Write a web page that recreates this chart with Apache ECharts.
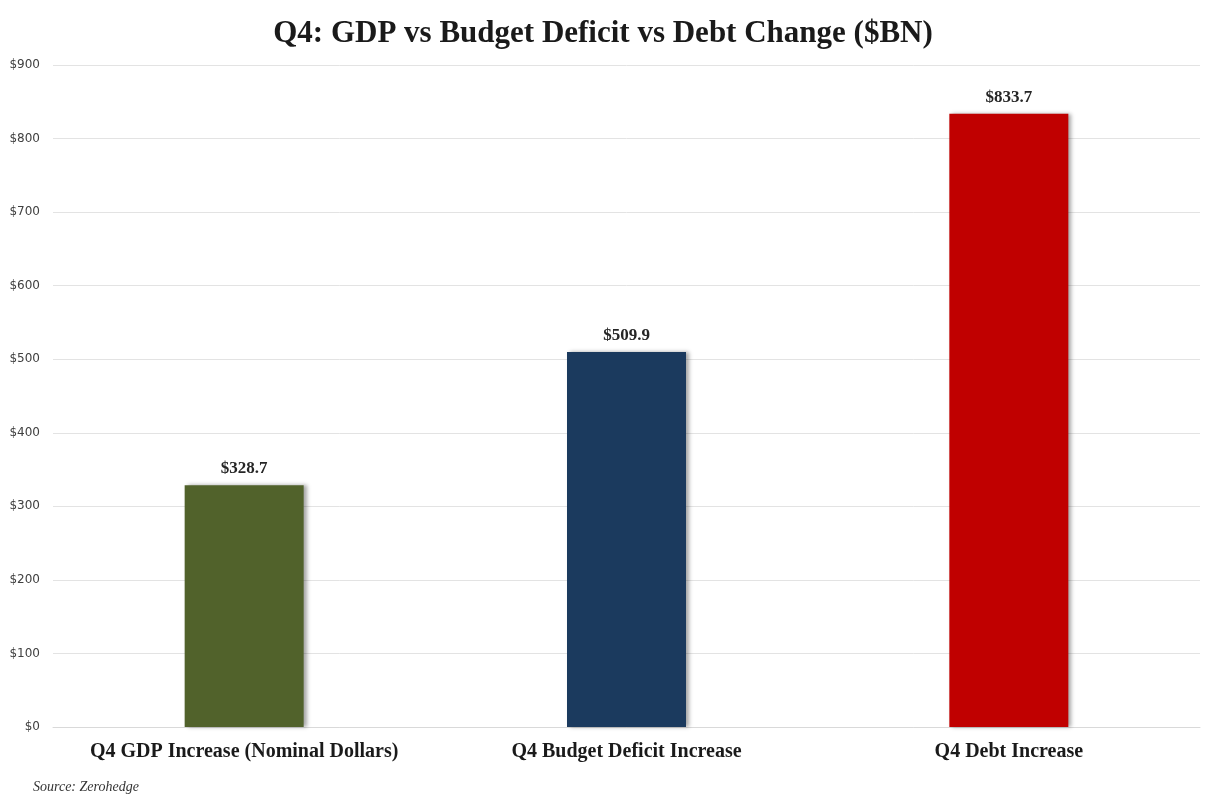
<!DOCTYPE html>
<html>
<head>
<meta charset="utf-8">
<script src="https://cdn.jsdelivr.net/npm/echarts@6/dist/echarts.min.js"></script>
<style>
  html, body { margin: 0; padding: 0; background: #fff; }
  #chart { width: 1206px; height: 801px; }
</style>
</head>
<body>
<div id="chart"></div>
<script>
var categories = ['Q4 GDP Increase (Nominal Dollars)', 'Q4 Budget Deficit Increase', 'Q4 Debt Increase'];
var values = [328.7, 509.9, 833.7];
var barColors = ['#51622b', '#1b3a5e', '#c00000'];

var chart = echarts.init(document.getElementById('chart'), null, {renderer: 'canvas'});

var serif = '"Liberation Serif", "DejaVu Serif", serif';

chart.setOption({
    backgroundColor: '#ffffff',
    title: {
        text: 'Q4: GDP vs Budget Deficit vs Debt Change ($BN)',
        left: 'center',
        top: 13,
        textStyle: {fontFamily: serif, fontSize: 31, fontWeight: 'bold', color: '#1a1a1a'}
    },
    graphic: [{
        type: 'text',
        left: 33,
        top: 780,
        style: {text: 'Source: Zerohedge', font: 'italic 14px ' + serif, fill: '#333'}
    }],
    grid: {left: 53, right: 6, top: 65, bottom: 74},
    xAxis: {
        type: 'category',
        data: categories,
        axisLine: {show: true, lineStyle: {color: '#d9d9d9'}},
        axisTick: {show: false},
        axisLabel: {
            interval: 0,
            hideOverlap: false,
            margin: 15,
            fontFamily: serif, fontSize: 20, fontWeight: 'bold', color: '#1a1a1a'
        }
    },
    yAxis: {
        type: 'value',
        min: 0,
        max: 900,
        interval: 100,
        axisLine: {show: false},
        axisTick: {show: false},
        axisLabel: {
            margin: 13,
            formatter: '${value}',
            fontFamily: '"DejaVu Sans", sans-serif', fontSize: 12, color: '#404040'
        },
        splitLine: {lineStyle: {color: '#e3e3e3', width: 1}}
    },
    series: [{
        type: 'bar',
        barWidth: 119,
        data: values.map(function (v, i) {
            return {value: v, itemStyle: {color: barColors[i]}};
        }),
        itemStyle: {
            shadowColor: 'rgba(0,0,0,0.35)',
            shadowBlur: 4,
            shadowOffsetX: 3,
            shadowOffsetY: 0
        },
        label: {
            show: true,
            position: 'top',
            distance: 8,
            formatter: function (p) { return '$' + p.value.toFixed(1); },
            fontFamily: serif, fontSize: 17, fontWeight: 'bold', color: '#262626'
        }
    }]
});
</script>
</body>
</html>
